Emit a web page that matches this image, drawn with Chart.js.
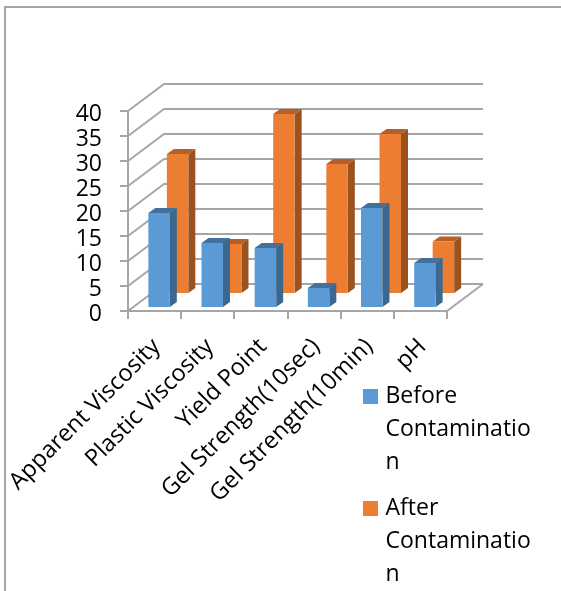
<!DOCTYPE html>
<html>
<head>
<meta charset="utf-8">
<script src="https://cdn.jsdelivr.net/npm/chart.js@4"></script>
<style>
html,body{margin:0;padding:0;background:#fff;overflow:hidden}
#wrap{position:relative;width:561px;height:591px}
canvas{display:block}
</style>
</head>
<body>
<div id="wrap"><canvas id="c" width="561" height="591"></canvas></div>
<script>
const categories = ["Apparent Viscosity","Plastic Viscosity","Yield Point","Gel Strength(10sec)","Gel Strength(10min)","pH"];
const beforeValues = [19,13,12,4,20,9];
const afterValues = [28,10,36,26,32,10.5];
const beforeLegend = ["Before","Contaminatio","n"];
const afterLegend = ["After","Contaminatio","n"];
const yTicks = [0,5,10,15,20,25,30,35,40];

const GRID = "#a6a6a6";
const WALL = {dx:36, dy:-27};
const DEPTH = {dx:7, dy:-5};
const SHIFT = [{dx:4.5,dy:-3},{dx:23,dy:-17}];
const FACES = [
  {front:"#5b9bd5", side:"#3a6890", top:"#41719c"},
  {front:"#ed7d31", side:"#9a521f", top:"#b5602a"}
];
const LEGEND_POS = {x:354, y:372};

const scene = {
  id:"scene",
  afterLayout(chart){
    const l = chart.legend;
    l.update(220,300,{left:0,top:0,right:0,bottom:0});
    l.left = LEGEND_POS.x; l.right = l.left + l.width;
    l.top = LEGEND_POS.y; l.bottom = l.top + l.height;
  },
  beforeDraw(chart){
    const {ctx,width,height} = chart;
    ctx.save();
    ctx.strokeStyle = "#a6a6a6"; ctx.lineWidth = 2;
    ctx.beginPath();
    ctx.moveTo(5,height); ctx.lineTo(5,7); ctx.lineTo(width,7);
    ctx.stroke();
    ctx.restore();
  },
  beforeDatasetsDraw(chart){
    const {ctx,chartArea:a,scales:{y}} = chart;
    ctx.save();
    ctx.strokeStyle = GRID; ctx.lineWidth = 2;
    yTicks.forEach(v=>{
      const p = y.getPixelForValue(v);
      ctx.beginPath();
      ctx.moveTo(a.left,p);
      ctx.lineTo(a.left+WALL.dx,p+WALL.dy);
      ctx.lineTo(a.right+WALL.dx,p+WALL.dy);
      ctx.stroke();
    });
    const b = y.getPixelForValue(0);
    ctx.beginPath();
    ctx.moveTo(a.left,b); ctx.lineTo(a.right,b);
    ctx.lineTo(a.right+WALL.dx,b+WALL.dy);
    ctx.stroke();
    ctx.restore();
  },
  beforeDatasetDraw(chart,args){
    const {ctx} = chart;
    const s = SHIFT[args.index], f = FACES[args.index];
    ctx.save();
    ctx.translate(s.dx,s.dy);
    args.meta.data.forEach(el=>{
      const p = el.getProps(["x","y","base","width"],true);
      const L = p.x-p.width/2, R = p.x+p.width/2;
      ctx.fillStyle = f.side;
      ctx.beginPath();
      ctx.moveTo(R,p.y); ctx.lineTo(R+DEPTH.dx,p.y+DEPTH.dy);
      ctx.lineTo(R+DEPTH.dx,p.base+DEPTH.dy); ctx.lineTo(R,p.base);
      ctx.closePath(); ctx.fill();
      ctx.fillStyle = f.top;
      ctx.beginPath();
      ctx.moveTo(L,p.y); ctx.lineTo(L+DEPTH.dx,p.y+DEPTH.dy);
      ctx.lineTo(R+DEPTH.dx,p.y+DEPTH.dy); ctx.lineTo(R,p.y);
      ctx.closePath(); ctx.fill();
    });
  },
  afterDatasetDraw(chart){ chart.ctx.restore(); }
};

new Chart(document.getElementById("c"),{
  type:"bar",
  data:{
    labels:categories,
    datasets:[
      {label:"Before Contamination",data:beforeValues,backgroundColor:FACES[0].front,legendLines:beforeLegend,grouped:false,barPercentage:0.404,categoryPercentage:1,clip:false},
      {label:"After Contamination",data:afterValues,backgroundColor:FACES[1].front,legendLines:afterLegend,grouped:false,barPercentage:0.404,categoryPercentage:1,clip:false}
    ]
  },
  plugins:[scene],
  options:{
    responsive:false,
    animation:false,
    layout:{padding:{left:0,right:114,top:111,bottom:0}},
    scales:{
      x:{
        grid:{drawOnChartArea:false,drawTicks:true,tickLength:8,color:GRID,lineWidth:2,offset:true},
        border:{display:true,color:GRID,width:2},
        ticks:{color:"#000",font:{family:"Open Sans",size:23.5},minRotation:45,maxRotation:45,autoSkip:false,labelOffset:2,padding:14},
        afterFit(s){s.height=280;s.paddingLeft=0;s.paddingRight=0;}
      },
      y:{
        min:0,max:40,
        grid:{drawOnChartArea:false,drawTicks:true,tickLength:8,color:GRID,lineWidth:2},
        border:{display:true,color:GRID,width:2},
        ticks:{color:"#000",font:{family:"Open Sans",size:23},stepSize:5,padding:18,labelOffset:3,autoSkip:false},
        afterFit(s){s.width=128;}
      }
    },
    plugins:{
      tooltip:{enabled:false},
      legend:{
        position:"chartArea",
        align:"start",
        labels:{
          color:"#000",
          font:{family:"Open Sans",size:23,lineHeight:"33px"},
          boxWidth:7,boxHeight:7,padding:13,
          generateLabels(chart){
            return chart.data.datasets.map((d,i)=>({
              text:d.legendLines,fillStyle:d.backgroundColor,strokeStyle:d.backgroundColor,lineWidth:8,datasetIndex:i,hidden:false
            }));
          }
        }
      }
    }
  }
});
</script>
</body>
</html>
